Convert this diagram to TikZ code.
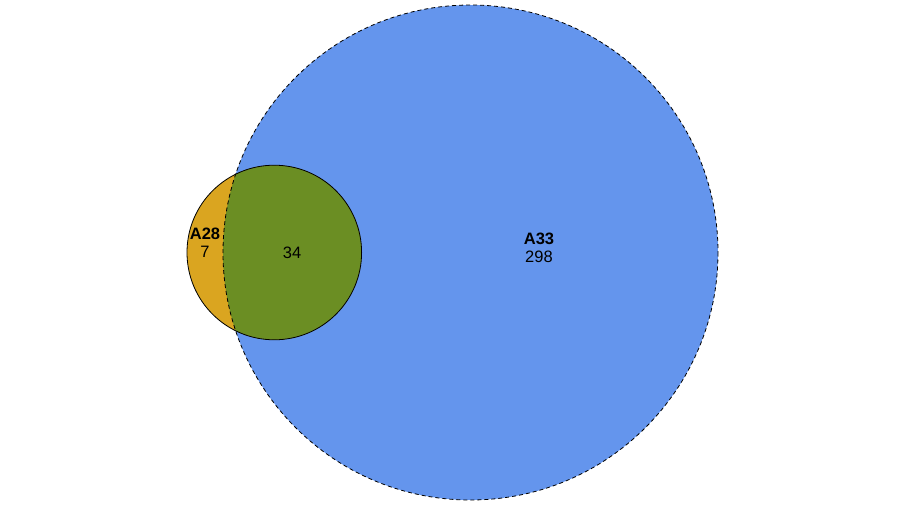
\documentclass[tikz,border=0pt]{standalone}
\usepackage{fontspec}
\setmainfont{Liberation Sans}
\begin{document}
\begin{tikzpicture}[x=1pt,y=-1pt,
  lbl/.style={font=\fontsize{16.5}{18.5}\selectfont, inner sep=0pt, align=center},
  outl/.style={draw=black, line width=0.8pt}]
\useasboundingbox (0,0) rectangle (906,506);
\definecolor{cblue}{HTML}{6495ED}
\definecolor{cgold}{HTML}{DAA520}
\definecolor{colive}{HTML}{6B8E23}
\coordinate (cA33) at (470.5,252.5);
\coordinate (cA28) at (274.3,252.5);
\fill[cblue] (cA33) circle[radius=247.5];
\fill[cgold] (cA28) circle[radius=87.3];
\begin{scope}
  \clip (cA33) circle[radius=247.5];
  \fill[colive] (cA28) circle[radius=87.3];
\end{scope}
\draw[outl, dashed, dash pattern=on 4pt off 3pt] (cA33) circle[radius=247.5];
\draw[outl] (cA28) circle[radius=87.3];
\node[lbl] (tA28) at (205,242.5) {\textbf{A28}\\7};
\node[lbl] (t34) at (292,253) {34};
\node[lbl] (tA33) at (539,248) {\textbf{A33}\\298};
\end{tikzpicture}
\end{document}
